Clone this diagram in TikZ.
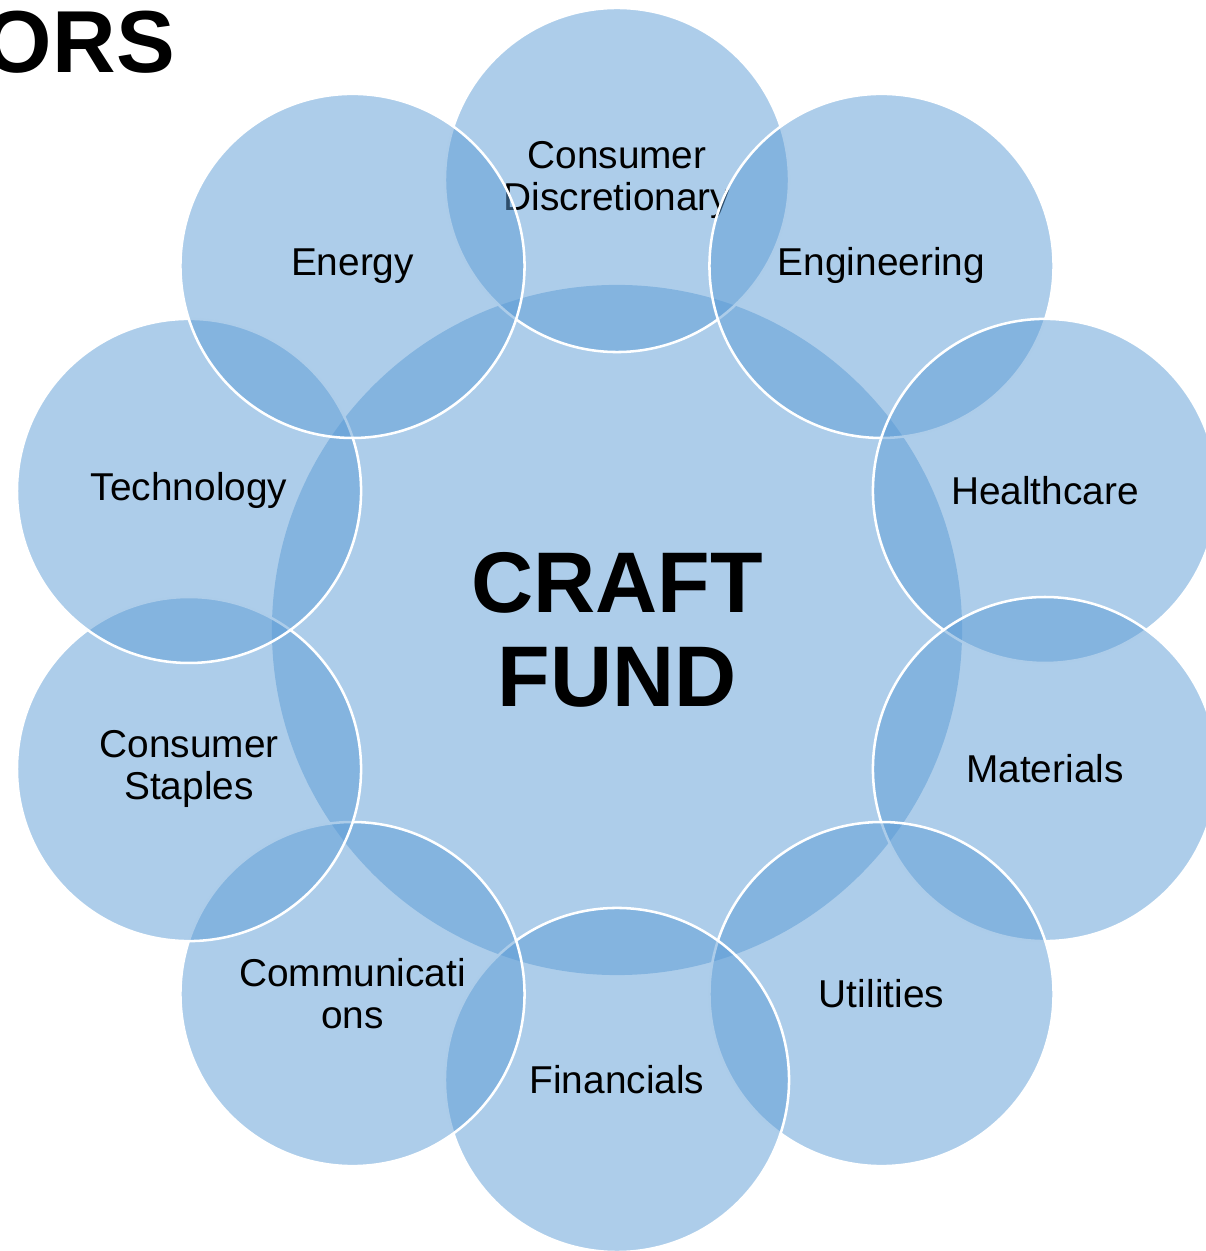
\documentclass[tikz,border=0pt]{standalone}
\usepackage{fontspec}
\setmainfont{Liberation Sans}
\definecolor{sectorblue}{RGB}{91,155,213}

\begin{document}
\begin{tikzpicture}[
  x=0.025cm,
  y=0.025cm,
  sector/.style={
    circle,
    draw=white,
    line width=1.8pt,
    fill=sectorblue,
    fill opacity=0.5,
    text opacity=1,
    inner sep=0pt,
    minimum size=8.6cm,
    align=center,
    font=\fontsize{27.6}{29.9}\selectfont
    },
  hub/.style={
    sector,
    draw=none,
    minimum size=17.25cm,
    font=\bfseries\fontsize{61.2}{66.9}\selectfont
    }
]
\useasboundingbox (0,0) rectangle (1205,1251);
\node [hub] (fund) at (617,621) {CRAFT\\FUND};
\foreach \ang/\id/\txt in {
    90/disc/{Consumer\\Discretionary},
    54/eng/Engineering,
    18/health/Healthcare,
    -18/mat/Materials,
    -54/util/Utilities,
    -90/fin/Financials,
    -126/comm/{Communicati\\ons},
    -162/staples/{Consumer\\Staples},
    162/tech/Technology,
    126/energy/Energy}
  \node [sector] (\id) at ([shift={(\ang:450)}]fund.center) {\txt};
\node [anchor=base east, inner sep=0pt, font=\bfseries\fontsize{62.6}{70}\selectfont] (title) at (175,1178) {ORS};
\end{tikzpicture}
\end{document}
